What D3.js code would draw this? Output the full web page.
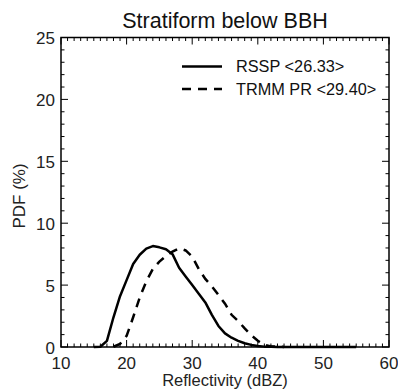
<!DOCTYPE html>
<head>
    <title>Stratiform below BBH</title>
    <script src="https://d3js.org/d3.v7.min.js"></script>
</head>
<style>
body {
  margin: 0;
  background: #fff;
  font-family: "Liberation Sans", Arial, Helvetica, sans-serif;
}
</style>
<body>
    <svg></svg>
</body>

<script>

    // Data (PDF in %, per 1 dBZ bin)
    var dbz = [15, 16, 17, 18, 19, 20, 21, 22, 23, 24, 25, 26, 27, 28, 29, 30, 31, 32, 33, 34, 35,
               36, 37, 38, 39, 40, 41, 42, 43, 44, 45, 46, 47, 48, 49, 50, 51, 52, 53, 54, 55];
    var rssp = [0, 0.02, 0.5, 2.4, 4.1, 5.4, 6.7, 7.45, 7.95, 8.15, 8.05, 7.9, 7.5, 6.4, 5.7, 5.0, 4.3, 3.6, 2.6, 1.7, 1.1,
                0.75, 0.5, 0.3, 0.17, 0.08, 0.03, 0.02, 0.01, 0.01, 0.01, 0.01, 0.01, 0, 0.01, 0.01, 0, 0.01, 0.01, 0.01, 0];
    var trmm = [null, null, null, 0.02, 0.25, 0.9, 2.4, 4.0, 5.3, 6.3, 6.9, 7.35, 7.7, 7.97, 7.8, 7.3, 6.3, 5.5, 4.9, 4.2, 3.5,
                2.6, 2.1, 1.5, 0.95, 0.5, 0.17, 0.05, 0.02, 0.01, null, null, null, null, null, null, null, null, null, null, null];

    var seriesNames = ["RSSP <26.33>", "TRMM PR <29.40>"];
    var xTicks = [10, 20, 30, 40, 50, 60];
    var yTicks = [0, 5, 10, 15, 20, 25];

    // Layout (plot frame edges in pixels)
    var width = 398;
    var height = 389;
    var plotL = 61, plotR = 389, plotT = 37.5, plotB = 347;

    var svg = d3.select('svg')
        .attr('width', width)
        .attr('height', height);

    var x = d3.scaleLinear().domain([10, 60]).range([plotL, plotR]);
    var y = d3.scaleLinear().domain([0, 25]).range([plotB, plotT]);

    // Ticks, all pointing inward (IDL style)
    var ticks = svg.append('g').attr('stroke', '#000').attr('stroke-width', 1);
    d3.range(10, 61, 1).forEach(function (v) {
        var len = (v % 10 === 0) ? 7 : 3.5;
        ticks.append('line').attr('x1', x(v)).attr('x2', x(v)).attr('y1', plotB).attr('y2', plotB - len);
        ticks.append('line').attr('x1', x(v)).attr('x2', x(v)).attr('y1', plotT).attr('y2', plotT + len);
    });
    d3.range(0, 26, 1).forEach(function (v) {
        var len = (v % 5 === 0) ? 7 : 3.5;
        ticks.append('line').attr('y1', y(v)).attr('y2', y(v)).attr('x1', plotL).attr('x2', plotL + len);
        ticks.append('line').attr('y1', y(v)).attr('y2', y(v)).attr('x1', plotR).attr('x2', plotR - len);
    });

    // Frame
    svg.append('rect')
        .attr('x', plotL).attr('y', plotT)
        .attr('width', plotR - plotL).attr('height', plotB - plotT)
        .attr('fill', 'none').attr('stroke', '#000').attr('stroke-width', 1.5);

    // Tick labels
    svg.selectAll('.xl').data(xTicks).enter().append('text')
        .attr('x', function (d) { return x(d); })
        .attr('y', 368.5)
        .attr('text-anchor', 'middle')
        .attr('font-size', 17)
        .attr('fill', '#222')
        .text(function (d) { return d; });

    svg.selectAll('.yl').data(yTicks).enter().append('text')
        .attr('x', plotL - 6)
        .attr('y', function (d) { return y(d); })
        .attr('dy', '0.4em')
        .attr('text-anchor', 'end')
        .attr('font-size', 17)
        .attr('fill', '#222')
        .text(function (d) { return d; });

    // Titles
    svg.append('text')
        .attr('x', (plotL + plotR) / 2).attr('y', 28)
        .attr('text-anchor', 'middle')
        .attr('font-size', 21.5)
        .attr('fill', '#111')
        .text('Stratiform below BBH');

    svg.append('text')
        .attr('x', (plotL + plotR) / 2).attr('y', 386)
        .attr('text-anchor', 'middle')
        .attr('font-size', 16.5)
        .attr('fill', '#222')
        .text('Reflectivity (dBZ)');

    svg.append('text')
        .attr('transform', 'translate(25,' + 196 + ')rotate(-90)')
        .attr('text-anchor', 'middle')
        .attr('font-size', 17)
        .attr('fill', '#222')
        .text('PDF (%)');

    // Curves
    var line = function (vals) {
        return d3.line()
            .defined(function (d, i) { return vals[i] !== null; })
            .x(function (d) { return x(d); })
            .y(function (d, i) { return y(vals[i]); })(dbz);
    };

    svg.append('path')
        .attr('d', line(rssp))
        .attr('fill', 'none').attr('stroke', '#000').attr('stroke-width', 2.5)
        .attr('stroke-linejoin', 'round');

    svg.append('path')
        .attr('d', line(trmm))
        .attr('fill', 'none').attr('stroke', '#000').attr('stroke-width', 2.5)
        .attr('stroke-dasharray', '9,7');

    // Legend
    var legend = svg.append('g');
    legend.append('line')
        .attr('x1', 182).attr('x2', 222).attr('y1', 66.5).attr('y2', 66.5)
        .attr('stroke', '#000').attr('stroke-width', 2.5);
    legend.append('line')
        .attr('x1', 182).attr('x2', 222).attr('y1', 89).attr('y2', 89)
        .attr('stroke', '#000').attr('stroke-width', 2.5)
        .attr('stroke-dasharray', '9,7');
    legend.selectAll('text').data(seriesNames).enter().append('text')
        .attr('x', 236)
        .attr('y', function (d, i) { return 72 + i * 23; })
        .attr('font-size', 16.3)
        .attr('fill', '#111')
        .text(function (d) { return d; });

</script>
